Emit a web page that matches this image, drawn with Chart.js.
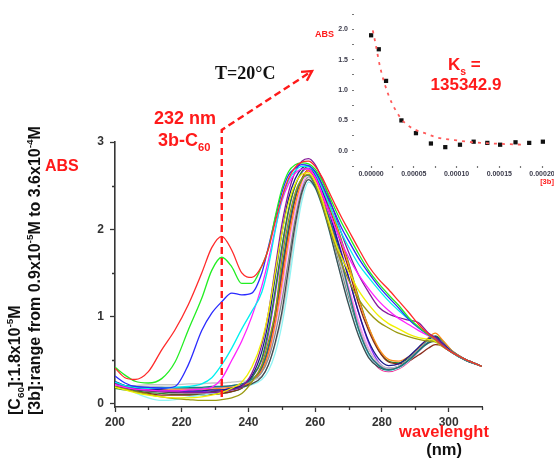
<!DOCTYPE html>
<html>
<head>
<meta charset="utf-8">
<script src="https://cdn.jsdelivr.net/npm/chart.js@4.4.1/dist/chart.umd.min.js"></script>
<style>
  html, body { margin: 0; padding: 0; background: #fff; }
  #wrap { position: relative; width: 554px; height: 460px; overflow: hidden; }
  #main { position: absolute; left: 0; top: 0; }
  #inset { position: absolute; left: 320px; top: 0; }
</style>
</head>
<body>
<div id="wrap">
  <canvas id="main" width="554" height="460"></canvas>
  <canvas id="inset" width="234" height="180"></canvas>
</div>
<script>
// ---- UV-vis titration spectra (absorbance vs wavelength, nm) ----
const WAVELENGTH = [200,203,206,210,214,218,222,226,229,232,235,238,241,244,246,248,250,252,254,256,258,260,262,264,266,268,270,273,276,279,282,285,288,291,294,296,298,301,305,310];

const ABS_RED = [0.41,0.30,0.28,0.37,0.62,0.85,1.14,1.50,1.79,1.92, 1.76,1.50,1.45,1.58,1.78,2.08,2.36,2.58,2.71,2.77, 2.78,2.72,2.60,2.44,2.28,2.13,1.99,1.78,1.58,1.43, 1.31,1.18,1.05,0.91,0.80,0.74,0.67,0.59,0.51,0.43];
const ABS_GREEN = [0.42,0.33,0.26,0.24,0.29,0.48,0.85,1.21,1.53,1.68, 1.57,1.38,1.38,1.58,1.78,2.14,2.46,2.66,2.74,2.76, 2.75,2.69,2.56,2.40,2.23,2.07,1.93,1.72,1.53,1.38, 1.25,1.13,0.99,0.88,0.79,0.74,0.67,0.59,0.51,0.43];
const ABS_BLUE = [0.32,0.24,0.20,0.19,0.18,0.20,0.45,0.84,1.04,1.17, 1.27,1.25,1.27,1.50,1.80,2.12,2.42,2.62,2.70,2.74, 2.73,2.66,2.52,2.35,2.18,2.01,1.87,1.67,1.50,1.35, 1.22,1.10,0.97,0.87,0.79,0.74,0.67,0.59,0.51,0.43];
const ABS_CYAN = [0.25,0.21,0.19,0.18,0.18,0.19,0.20,0.23,0.30,0.45, 0.64,0.86,1.06,1.28,1.58,1.98,2.35,2.56,2.67,2.72, 2.72,2.64,2.48,2.30,2.12,1.95,1.80,1.60,1.45,1.31, 1.18,1.07,0.97,0.88,0.79,0.74,0.67,0.59,0.51,0.43];
const ABS_MAGENTA = [0.22,0.19,0.17,0.16,0.15,0.15,0.16,0.17,0.19,0.29, 0.50,0.72,1.00,1.35,1.65,2.00,2.32,2.52,2.64,2.69, 2.69,2.60,2.42,2.22,2.02,1.84,1.68,1.48,1.32,1.18, 1.07,0.98,0.91,0.84,0.78,0.74,0.67,0.59,0.51,0.43];
const ABS_YELLOW = [0.19,0.16,0.13,0.10,0.08,0.07,0.07,0.08,0.10,0.13, 0.18,0.25,0.42,0.72,1.05,1.50,1.95,2.30,2.52,2.63, 2.65,2.55,2.35,2.10,1.86,1.67,1.52,1.30,1.14,1.01, 0.92,0.86,0.80,0.76,0.74,0.72,0.66,0.59,0.51,0.43];
const ABS_OLIVE = [0.20,0.17,0.14,0.11,0.08,0.06,0.05,0.04,0.04,0.05, 0.07,0.12,0.25,0.45,0.72,1.05,1.65,2.10,2.42,2.58, 2.63,2.52,2.30,2.05,1.82,1.60,1.42,1.20,1.05,0.94, 0.87,0.81,0.77,0.74,0.72,0.71,0.66,0.59,0.51,0.43];
const ABS_PURPLE = [0.24,0.20,0.17,0.16,0.15,0.14,0.13,0.13,0.13,0.14, 0.16,0.20,0.35,0.68,1.05,1.55,2.05,2.42,2.66,2.78, 2.81,2.74,2.58,2.38,2.16,1.94,1.74,1.48,1.28,1.11, 1.03,0.99,0.96,0.93,0.81,0.76,0.69,0.59,0.51,0.43];
const ABS_NAVY = [0.26,0.21,0.18,0.17,0.16,0.15,0.15,0.15,0.16,0.16, 0.18,0.21,0.32,0.60,0.95,1.45,1.95,2.35,2.58,2.70, 2.73,2.62,2.45,2.22,1.96,1.70,1.45,1.05,0.72,0.52, 0.44,0.46,0.54,0.65,0.75,0.77,0.70,0.60,0.51,0.43];
const ABS_DARKCYAN = [0.23,0.21,0.20,0.19,0.19,0.19,0.19,0.19,0.20,0.20, 0.21,0.23,0.28,0.42,0.66,1.05,1.55,2.02,2.38,2.57, 2.62,2.50,2.33,2.15,1.92,1.62,1.30,0.86,0.58,0.44, 0.39,0.42,0.50,0.61,0.71,0.73,0.69,0.59,0.50,0.43];
const ABS_DARKGRAY = [0.20,0.18,0.16,0.15,0.14,0.13,0.13,0.13,0.14,0.15, 0.17,0.19,0.23,0.31,0.45,0.70,1.05,1.55,2.05,2.42, 2.57,2.48,2.28,2.02,1.72,1.42,1.14,0.78,0.53,0.42, 0.39,0.42,0.50,0.61,0.70,0.72,0.68,0.59,0.50,0.43];
const ABS_LIGHTCYAN = [0.25,0.20,0.13,0.07,0.04,0.05,0.08,0.10,0.12,0.14, 0.16,0.19,0.22,0.28,0.38,0.58,0.90,1.35,1.88,2.32, 2.54,2.47,2.27,2.01,1.72,1.43,1.16,0.80,0.55,0.42, 0.38,0.41,0.49,0.60,0.70,0.72,0.68,0.59,0.50,0.43];
const ABS_LIGHTGRAY = [0.21,0.21,0.21,0.22,0.22,0.22,0.23,0.23,0.24,0.24, 0.25,0.26,0.27,0.32,0.45,0.68,1.00,1.45,1.98,2.38, 2.59,2.52,2.34,2.10,1.83,1.55,1.28,0.90,0.62,0.47, 0.41,0.43,0.51,0.62,0.72,0.75,0.70,0.60,0.51,0.43];
const ABS_GRAY = [0.22,0.20,0.19,0.19,0.19,0.18,0.18,0.18,0.19,0.20, 0.21,0.23,0.26,0.36,0.52,0.80,1.18,1.65,2.12,2.45, 2.60,2.50,2.31,2.06,1.78,1.50,1.22,0.85,0.58,0.45, 0.40,0.43,0.51,0.62,0.71,0.74,0.69,0.59,0.50,0.43];
const ABS_ORANGE = [0.24,0.20,0.18,0.17,0.16,0.16,0.16,0.16,0.17,0.18, 0.19,0.21,0.26,0.38,0.58,0.92,1.38,1.88,2.28,2.55, 2.68,2.64,2.50,2.30,2.08,1.84,1.60,1.20,0.88,0.64, 0.51,0.49,0.54,0.64,0.76,0.81,0.74,0.61,0.51,0.43];
const ABS_WINE = [0.20,0.17,0.14,0.12,0.10,0.10,0.10,0.10,0.11,0.12, 0.14,0.18,0.26,0.42,0.65,1.02,1.50,1.98,2.35,2.58, 2.68,2.63,2.48,2.28,2.05,1.80,1.55,1.15,0.84,0.61, 0.48,0.46,0.49,0.56,0.64,0.68,0.67,0.60,0.51,0.43];
const ABS_DARKGREEN = [0.18,0.16,0.15,0.13,0.12,0.11,0.11,0.11,0.11,0.12, 0.14,0.18,0.30,0.52,0.85,1.30,1.80,2.22,2.50,2.66, 2.72,2.66,2.52,2.32,2.10,1.86,1.62,1.22,0.88,0.62, 0.49,0.47,0.52,0.62,0.73,0.78,0.73,0.61,0.51,0.43];
const ABS_PINK = [0.22,0.19,0.17,0.15,0.14,0.13,0.13,0.13,0.13,0.14, 0.16,0.19,0.26,0.40,0.62,0.98,1.45,1.95,2.35,2.58, 2.67,2.58,2.40,2.16,1.88,1.58,1.30,0.90,0.58,0.41, 0.37,0.40,0.48,0.60,0.71,0.75,0.70,0.60,0.51,0.43];
const ABS_VIOLET = [0.24,0.20,0.17,0.15,0.14,0.14,0.14,0.14,0.15,0.16, 0.18,0.21,0.30,0.50,0.80,1.25,1.75,2.20,2.50,2.65, 2.70,2.62,2.46,2.24,1.98,1.72,1.46,1.05,0.70,0.48, 0.41,0.43,0.51,0.63,0.74,0.77,0.71,0.60,0.51,0.43];
const ABS_LIGHTMAGENTA = [0.21,0.19,0.18,0.18,0.17,0.17,0.17,0.17,0.18,0.19, 0.20,0.22,0.27,0.38,0.56,0.88,1.30,1.80,2.22,2.50, 2.63,2.56,2.38,2.14,1.88,1.61,1.35,0.95,0.64,0.46, 0.40,0.42,0.50,0.62,0.72,0.75,0.70,0.60,0.51,0.43];

// axis ticks of the spectra plot
const X_MAJOR = [200,220,240,260,280,300];
const X_MINOR = [210,230,250,270,290,310];
const Y_MAJOR = [0,1,2,3];
const Y_MINOR = [0.5,1.5,2.5];
const MARK_WAVELENGTH = 232;

// ---- binding isotherm: absorbance at 232 nm vs [3b] (M) ----
const CONC_3B = [0, 0.000009, 0.0000175, 0.0000355, 0.0000525, 0.00007, 0.0000868, 0.000104, 0.00012, 0.000136, 0.000151, 0.000169, 0.000185, 0.000201];
const ABS_232 = [1.90, 1.67, 1.15, 0.50, 0.29, 0.12, 0.06, 0.10, 0.15, 0.13, 0.10, 0.14, 0.13, 0.15];
const FIT_CONC = [0.000002, 0.0000058, 0.0000105, 0.00002, 0.000029, 0.0000386, 0.0000526, 0.000063, 0.0000768, 0.0000958, 0.000119, 0.0001425, 0.000178];
const FIT_ABS = [1.98, 1.72, 1.38, 0.93, 0.66, 0.47, 0.34, 0.29, 0.22, 0.18, 0.14, 0.12, 0.10];
const INSET_X_TICKS = [0, 0.000025, 0.00005, 0.000075, 0.0001, 0.000125, 0.00015, 0.000175, 0.0002];
const INSET_Y_TICKS = [-0.25, 0, 0.25, 0.5, 0.75, 1, 1.25, 1.5, 1.75, 2, 2.25];

// first entry is drawn on top
const SPECTRA = [
  { values: ABS_RED, color: '#ff2a2a' },
  { values: ABS_GREEN, color: '#22ee22' },
  { values: ABS_BLUE, color: '#2a2aff' },
  { values: ABS_CYAN, color: '#00f0f0' },
  { values: ABS_MAGENTA, color: '#ff20ff' },
  { values: ABS_YELLOW, color: '#f0f000' },
  { values: ABS_OLIVE, color: '#9a9a10' },
  { values: ABS_PURPLE, color: '#861a9a' },
  { values: ABS_NAVY, color: '#1a1a8a' },
  { values: ABS_DARKCYAN, color: '#1a7a80' },
  { values: ABS_DARKGRAY, color: '#404a50' },
  { values: ABS_LIGHTCYAN, color: '#90f4f4' },
  { values: ABS_LIGHTGRAY, color: '#c4c4c4' },
  { values: ABS_GRAY, color: '#8a8a8a' },
  { values: ABS_ORANGE, color: '#ff8c1a' },
  { values: ABS_WINE, color: '#8a2a1a' },
  { values: ABS_DARKGREEN, color: '#2a8a2a' },
  { values: ABS_PINK, color: '#ff1a8c' },
  { values: ABS_VIOLET, color: '#8c2aff' },
  { values: ABS_LIGHTMAGENTA, color: '#ff8cff' }
];

const SANS = "'Liberation Sans', Arial, sans-serif";
const SERIF = "'Liberation Serif', 'Times New Roman', serif";
const RED = '#ff1a1a';
const AXIS = '#363636';

// text made of normal / subscript / superscript runs
function richWidth(ctx, parts, size, family) {
  let w = 0;
  for (const [t, m] of parts) {
    ctx.font = 'bold ' + (m ? size * 0.62 : size) + 'px ' + family;
    w += ctx.measureText(t).width;
  }
  return w;
}
function drawRich(ctx, parts, x, y, size, color, family, align) {
  const w = richWidth(ctx, parts, size, family);
  let cx = align === 'center' ? x - w / 2 : x;
  ctx.fillStyle = color;
  ctx.textBaseline = 'alphabetic';
  ctx.textAlign = 'left';
  for (const [t, m] of parts) {
    ctx.font = 'bold ' + (m ? size * 0.62 : size) + 'px ' + family;
    const dy = m === 1 ? size * 0.28 : (m === -1 ? -size * 0.42 : 0);
    ctx.fillText(t, cx, y + dy);
    cx += ctx.measureText(t).width;
  }
}

const minorTicks = {
  id: 'minorTicks',
  afterDraw(chart) {
    const { ctx, scales: { x, y } } = chart;
    ctx.save();
    ctx.strokeStyle = AXIS;
    ctx.lineWidth = 1.3;
    ctx.beginPath();
    for (const v of X_MINOR) {
      const px = Math.round(x.getPixelForValue(v)) + 0.5;
      ctx.moveTo(px, x.top); ctx.lineTo(px, x.top + 3);
    }
    for (const v of Y_MINOR) {
      const py = Math.round(y.getPixelForValue(v)) + 0.5;
      ctx.moveTo(y.right, py); ctx.lineTo(y.right - 3, py);
    }
    ctx.stroke();
    ctx.restore();
  }
};

const annotations = {
  id: 'annotations',
  afterDraw(chart) {
    const { ctx, scales: { x, y } } = chart;
    ctx.save();
    // guide at the 232 nm band, leading to the binding isotherm
    const gx = x.getPixelForValue(MARK_WAVELENGTH);
    const yBottom = y.getPixelForValue(0.08);
    const yTop = 130;
    const tip = [312, 71];
    ctx.strokeStyle = RED;
    ctx.lineWidth = 2.4;
    ctx.setLineDash([7, 4]);
    ctx.beginPath();
    ctx.moveTo(gx, yBottom);
    ctx.lineTo(gx, yTop);
    ctx.lineTo(tip[0], tip[1]);
    ctx.stroke();
    ctx.setLineDash([]);
    const ang = Math.atan2(tip[1] - yTop, tip[0] - gx);
    ctx.beginPath();
    ctx.moveTo(tip[0] - 11 * Math.cos(ang - 0.5), tip[1] - 11 * Math.sin(ang - 0.5));
    ctx.lineTo(tip[0], tip[1]);
    ctx.lineTo(tip[0] - 11 * Math.cos(ang + 0.5), tip[1] - 11 * Math.sin(ang + 0.5));
    ctx.stroke();

    // labels
    drawRich(ctx, [['232 nm', 0]], 185, 124, 18, RED, SANS, 'center');
    drawRich(ctx, [['3b-C', 0], ['60', 1]], 158, 146, 18, RED, SANS, 'left');
    drawRich(ctx, [['T=20\u00B0C', 0]], 215, 79, 18, '#111', SERIF, 'left');
    drawRich(ctx, [['K', 0], ['s', 1], [' =', 0]], 448, 70, 17, RED, SANS, 'left');
    drawRich(ctx, [['135342.9', 0]], 466, 90, 17, RED, SANS, 'center');

    // titles of the isotherm inset
    drawRich(ctx, [['ABS', 0]], 315, 37, 9, RED, SANS, 'left');
    drawRich(ctx, [['[3b]', 0]], 547, 184, 7.5, RED, SANS, 'center');

    drawRich(ctx, [['ABS', 0]], 45, 171, 16, RED, SANS, 'left');
    drawRich(ctx, [['wavelenght', 0]], 444, 437, 16.5, RED, SANS, 'center');
    drawRich(ctx, [['(nm)', 0]], 444, 455, 16.5, '#111', SANS, 'center');

    // concentration notes, written bottom-to-top
    ctx.save();
    ctx.translate(20, 415);
    ctx.rotate(-Math.PI / 2);
    drawRich(ctx, [['[C', 0], ['60', 1], [']:1.8x10', 0], ['-5', -1], ['M', 0]], 0, 0, 16, '#111', SANS, 'left');
    ctx.restore();
    ctx.save();
    ctx.translate(40, 415);
    ctx.rotate(-Math.PI / 2);
    drawRich(ctx, [['[3b]:range from 0.9x10', 0], ['-5', -1], ['M to 3.6x10', 0], ['-4', -1], ['M', 0]], 0, 0, 16, '#111', SANS, 'left');
    ctx.restore();
    ctx.restore();
  }
};

new Chart(document.getElementById('main'), {
  type: 'line',
  data: {
    datasets: SPECTRA.map(s => ({
      data: WAVELENGTH.map((w, i) => ({ x: w, y: s.values[i] })),
      borderColor: s.color,
      borderWidth: 1.3,
      pointRadius: 0,
      fill: false,
      cubicInterpolationMode: 'monotone'
    }))
  },
  options: {
    responsive: false,
    animation: false,
    devicePixelRatio: 1,
    layout: { padding: { top: 142, right: 72, left: 0, bottom: 0 } },
    plugins: { legend: { display: false }, tooltip: { enabled: false } },
    scales: {
      x: {
        type: 'linear', min: 200, max: 310,
        afterBuildTicks: s => { s.ticks = X_MAJOR.map(v => ({ value: v })); },
        afterFit: s => { s.height = 53; s.paddingLeft = 0; s.paddingRight = 0; },
        grid: { display: true, drawOnChartArea: false, drawTicks: true, tickLength: 5, color: AXIS, tickWidth: 1.3 },
        border: { display: true, color: AXIS, width: 1.6 },
        ticks: { padding: 3, color: '#333', maxRotation: 0, autoSkip: false,
                 font: { family: SANS, size: 12, weight: 'bold' } }
      },
      y: {
        type: 'linear', min: -0.035, max: 3,
        afterBuildTicks: s => { s.ticks = Y_MAJOR.map(v => ({ value: v })); },
        afterFit: s => { s.width = 115; s.paddingTop = 0; s.paddingBottom = 0; },
        grid: { display: true, drawOnChartArea: false, drawTicks: true, tickLength: 5, color: AXIS, tickWidth: 1.3 },
        border: { display: true, color: AXIS, width: 1.6 },
        ticks: { padding: 6, color: '#333', font: { family: SANS, size: 12, weight: 'bold' } }
      }
    }
  },
  plugins: [minorTicks, annotations]
});

new Chart(document.getElementById('inset'), {
  type: 'scatter',
  data: {
    datasets: [
      {
        type: 'line',
        data: FIT_CONC.map((c, i) => ({ x: c, y: FIT_ABS[i] })),
        borderColor: '#ff5a5a',
        borderWidth: 1.8,
        borderDash: [3, 5],
        pointRadius: 0,
        fill: false,
        cubicInterpolationMode: 'monotone'
      },
      {
        data: CONC_3B.map((c, i) => ({ x: c, y: ABS_232[i] })),
        pointStyle: 'rect',
        pointRadius: 3,
        backgroundColor: '#111',
        borderColor: '#111',
        borderWidth: 0
      }
    ]
  },
  options: {
    responsive: false,
    animation: false,
    devicePixelRatio: 1,
    layout: { padding: { top: 14, right: 6, left: 0, bottom: 0 } },
    plugins: { legend: { display: false }, tooltip: { enabled: false } },
    scales: {
      x: {
        type: 'linear', min: -0.00002, max: 0.000207,
        afterBuildTicks: s => { s.ticks = INSET_X_TICKS.map(v => ({ value: v })); },
        afterFit: s => { s.height = 14; s.paddingLeft = 0; s.paddingRight = 0; },
        grid: { display: true, drawOnChartArea: false, drawTicks: true, tickLength: 2, color: '#777', tickWidth: 1.2 },
        border: { display: false },
        ticks: {
          padding: 2, color: '#3a3a4a', maxRotation: 0, autoSkip: false,
          font: { family: SANS, size: 7, weight: 'bold' },
          callback: v => (Math.abs(v / 0.00005 - Math.round(v / 0.00005)) < 1e-6 ? v.toFixed(5) : '')
        }
      },
      y: {
        type: 'linear', min: -0.25, max: 2.25,
        afterBuildTicks: s => { s.ticks = INSET_Y_TICKS.map(v => ({ value: v })); },
        afterFit: s => { s.width = 34; s.paddingTop = 0; s.paddingBottom = 0; },
        grid: { display: true, drawOnChartArea: false, drawTicks: true, tickLength: 2, color: '#777', tickWidth: 1.2 },
        border: { display: false },
        ticks: {
          padding: 4, color: '#3a3a4a', autoSkip: false,
          font: { family: SANS, size: 7, weight: 'bold' },
          callback: v => (Math.abs(v / 0.5 - Math.round(v / 0.5)) < 1e-6 ? v.toFixed(1) : '')
        }
      }
    }
  }
});
</script>
</body>
</html>
